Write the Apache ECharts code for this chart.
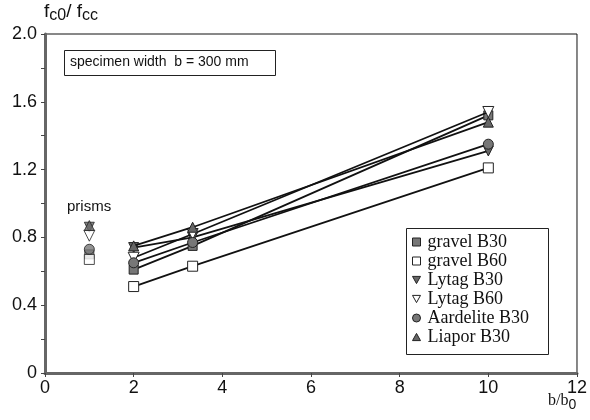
<!DOCTYPE html>
<html><head><meta charset="utf-8">
<script src="https://cdn.jsdelivr.net/npm/echarts@6/dist/echarts.min.js"></script>
<style>html,body{margin:0;padding:0;background:#fff}#c{width:590px;height:420px}</style>
</head><body><div id="c"></div>
<script>
const seriesNames = ['gravel B30','gravel B60','Lytag B30','Lytag B60','Aardelite B30','Liapor B30'];
const xRatios = [2, 3.33, 10];
const prismX = 1;
const gravelB30 = [0.61, 0.75, 1.52];
const gravelB60 = [0.51, 0.63, 1.21];
const lytagB30 = [0.74, 0.80, 1.31];
const lytagB60 = [0.68, 0.82, 1.54];
const aardeliteB30 = [0.65, 0.77, 1.35];
const liaporB30 = [0.75, 0.86, 1.48];
const prismValues = [0.70, 0.67, 0.86, 0.81, 0.73, 0.87];
const xTicks = [0, 2, 4, 6, 8, 10, 12];
const yTickLabels = ['0', '0.4', '0.8', '1.2', '1.6', '2.0'];

const values = [gravelB30, gravelB60, lytagB30, lytagB60, aardeliteB30, liaporB30];
const downTri = 'path://M0,0 L10,0 L5,9 Z';
const upTri = 'path://M5,0 L10,9 L0,9 Z';
const styles = [
  {symbol:'rect', fill:'#777', size:9},
  {symbol:'rect', fill:'#fff', size:10},
  {symbol:downTri, fill:'#666', size:10},
  {symbol:downTri, fill:'#fff', size:11},
  {symbol:'circle', fill:'#777', size:10},
  {symbol:upTri, fill:'#666', size:10}
];

const chart = echarts.init(document.getElementById('c'), null, {renderer:'canvas'});
const series = [];
seriesNames.forEach((n, i) => {
  const st = styles[i];
  series.push({
    name: n, type: 'line', data: xRatios.map((x, j) => [x, values[i][j]]),
    symbol: st.symbol, symbolSize: st.size, showSymbol: true,
    lineStyle: {color: '#111', width: 1.8},
    itemStyle: {color: st.fill, borderColor: '#222', borderWidth: 1},
    z: 3 + i, animation: false
  });
  series.push({
    name: n, type: 'scatter', data: [[prismX, prismValues[i]]],
    symbol: st.symbol, symbolSize: st.size,
    itemStyle: {color: st.fill, borderColor: '#222', borderWidth: 1},
    z: 3 + i, animation: false
  });
});

chart.setOption({
  animation: false,
  grid: {left: 45, right: 13, top: 34, bottom: 47, show: true, borderColor: '#111', borderWidth: 1},
  xAxis: {
    type: 'value', min: 0, max: 12, interval: 2,
    axisLine: {show: true, lineStyle: {color: '#666', width: 3}},
    axisTick: {show: true, length: 4, lineStyle: {color: '#444'}},
    splitLine: {show: false},
    axisLabel: {color: '#111', fontFamily: 'Liberation Sans', fontSize: 18, margin: 6,
      formatter: v => xTicks.includes(v) ? String(v) : ''}
  },
  yAxis: {
    type: 'value', min: 0, max: 2, interval: 0.2,
    axisLine: {show: true, lineStyle: {color: '#666', width: 3}},
    axisTick: {show: true, length: 4, lineStyle: {color: '#444'}},
    splitLine: {show: false},
    axisLabel: {color: '#111', fontFamily: 'Liberation Sans', fontSize: 18, margin: 8,
      formatter: v => {
        const s = v === 0 ? '0' : v.toFixed(1);
        return yTickLabels.includes(s) ? s : '';
      }}
  },
  legend: {
    orient: 'vertical', left: 412, top: 233,
    padding: 0, itemGap: 1, itemWidth: 8, itemHeight: 8,
    textStyle: {fontFamily: 'Liberation Serif', fontSize: 18, lineHeight: 18, color: '#111', padding: [0, 0, 0, 2]},
    data: seriesNames.map((n, i) => ({name: n, icon: styles[i].symbol,
      itemStyle: {color: styles[i].fill, borderColor: '#222', borderWidth: 1}}))
  },
  graphic: [
    {type: 'rect', left: 406, top: 228, z: 1, shape: {width: 142, height: 126},
      style: {fill: '#fff', stroke: '#222', lineWidth: 1}},
    {type: 'text', left: 44, top: 2, style: {
      text: 'f{s|c0}/ f{s|cc}', fontFamily: 'Liberation Sans', fontSize: 19, fill: '#111',
      rich: {s: {fontSize: 16, fontFamily: 'Liberation Sans', padding: [9, 0, 0, 0], fill: '#111'}}
    }},
    {type: 'text', left: 548, top: 393, style: {
      text: 'b/b{s|0}', fontFamily: 'Liberation Serif', fontSize: 16, fill: '#111',
      rich: {s: {fontSize: 14, fontFamily: 'Liberation Sans', padding: [8, 0, 0, 0], fill: '#111'}}
    }},
    {type: 'rect', left: 64, top: 50, shape: {width: 211, height: 25},
      style: {fill: '#fff', stroke: '#222', lineWidth: 1}},
    {type: 'text', left: 70, top: 55, style: {
      text: 'specimen width  b = 300 mm', fontFamily: 'Liberation Sans', fontSize: 14, fill: '#111'}},
    {type: 'text', left: 67, top: 199, style: {
      text: 'prisms', fontFamily: 'Liberation Sans', fontSize: 15, fill: '#111'}}
  ],
  series: series
});
</script></body></html>
